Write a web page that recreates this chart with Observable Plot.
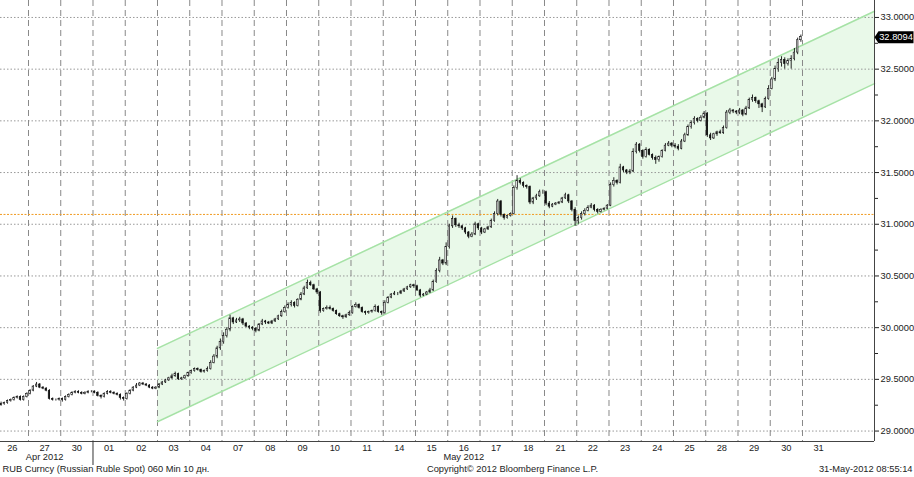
<!DOCTYPE html>
<html><head><meta charset="utf-8">
<script src="https://cdn.jsdelivr.net/npm/d3@7"></script>
<script src="https://cdn.jsdelivr.net/npm/@observablehq/plot@0.6"></script>
<style>body{margin:0;background:#fff;}</style>
</head><body><div id="chart"></div>
<script>
// Day labels on the time axis (26 Apr .. 31 May 2012)
const dayLabels = ["26","27","30","01","02","03","04","07","08","09","10","11","14","15","16","17","18","21","22","23","24","25","28","29","30","31"];
const monthLabels = [{label: "Apr 2012", day: 1}, {label: "May 2012", day: 14}];
const monthSeparatorDay = 3;
const barsPerDay = 10;
const firstOpen = 29.24;
// hourly closes, 10 bars per trading day
const closes = [
29.25,29.26,29.27,29.29,29.30,29.32,29.33,29.30,29.33,29.36,
29.39,29.43,29.45,29.42,29.41,29.39,29.31,29.30,29.30,29.31,
29.30,29.33,29.35,29.37,29.38,29.37,29.36,29.37,29.38,29.38,
29.37,29.34,29.33,29.36,29.38,29.37,29.36,29.35,29.32,29.31,
29.36,29.39,29.42,29.44,29.46,29.45,29.44,29.42,29.41,29.42,
29.45,29.47,29.49,29.51,29.53,29.55,29.50,29.51,29.53,29.56,
29.58,29.60,29.59,29.57,29.58,29.60,29.66,29.72,29.80,29.86,
29.92,29.98,30.09,30.05,30.07,30.08,30.04,30.01,30.00,29.99,
29.97,30.03,30.06,30.05,30.04,30.06,30.08,30.11,30.15,30.19,
30.22,30.24,30.21,30.27,30.32,30.38,30.43,30.41,30.37,30.34,
30.16,30.18,30.19,30.18,30.16,30.13,30.11,30.10,30.12,30.14,
30.20,30.22,30.19,30.15,30.14,30.15,30.16,30.20,30.15,30.14,
30.24,30.29,30.32,30.33,30.33,30.35,30.37,30.39,30.41,30.40,
30.36,30.31,30.32,30.34,30.36,30.44,30.55,30.65,30.62,30.78,
30.98,31.05,30.99,30.98,30.96,30.92,30.88,30.90,31.00,30.96,
30.92,30.95,30.97,31.03,31.10,31.22,31.09,31.06,31.08,31.10,
31.35,31.42,31.40,31.37,31.36,31.21,31.25,31.27,31.31,31.31,
31.20,31.17,31.19,31.20,31.21,31.25,31.28,31.22,31.14,31.03,
31.06,31.10,31.13,31.16,31.18,31.14,31.12,31.14,31.15,31.18,
31.38,31.42,31.40,31.55,31.52,31.50,31.51,31.70,31.77,31.71,
31.65,31.72,31.67,31.64,31.62,31.65,31.71,31.76,31.78,31.76,
31.75,31.73,31.80,31.86,31.94,31.98,32.02,32.00,32.03,32.07,
31.86,31.83,31.87,31.89,31.88,31.93,32.08,32.10,32.09,32.08,
32.10,32.06,32.12,32.20,32.22,32.19,32.16,32.13,32.21,32.31,
32.40,32.50,32.56,32.59,32.55,32.58,32.60,32.66,32.78,32.8094
];
const highs = [
29.26,29.28,29.28,29.30,29.31,29.33,29.34,29.34,29.34,29.37,
29.40,29.44,29.47,29.46,29.43,29.42,29.40,29.32,29.31,29.32,
29.32,29.34,29.36,29.38,29.39,29.39,29.38,29.38,29.39,29.39,
29.39,29.38,29.35,29.37,29.39,29.39,29.38,29.37,29.36,29.33,
29.37,29.40,29.43,29.46,29.47,29.47,29.46,29.45,29.43,29.43,
29.46,29.48,29.50,29.52,29.55,29.57,29.56,29.52,29.54,29.57,
29.59,29.61,29.61,29.60,29.59,29.62,29.68,29.74,29.82,29.89,
29.95,30.00,30.12,30.10,30.09,30.10,30.09,30.05,30.02,30.01,
30.00,30.04,30.08,30.07,30.06,30.07,30.09,30.12,30.17,30.21,
30.24,30.26,30.25,30.28,30.34,30.40,30.46,30.45,30.42,30.38,
30.35,30.19,30.21,30.21,30.19,30.17,30.14,30.12,30.13,30.16,
30.21,30.24,30.23,30.20,30.16,30.16,30.17,30.22,30.21,30.16,
30.26,30.30,30.33,30.35,30.34,30.36,30.38,30.40,30.42,30.42,
30.41,30.37,30.33,30.35,30.38,30.46,30.57,30.68,30.66,30.82,
31.00,31.08,31.06,31.01,30.99,30.97,30.93,30.92,31.02,31.01,
30.97,30.96,30.98,31.05,31.12,31.24,31.23,31.10,31.09,31.11,
31.37,31.47,31.44,31.41,31.38,31.37,31.26,31.29,31.33,31.33,
31.32,31.22,31.20,31.21,31.22,31.26,31.30,31.29,31.23,31.16,
31.08,31.12,31.15,31.18,31.20,31.19,31.15,31.15,31.16,31.19,
31.40,31.45,31.43,31.58,31.56,31.53,31.53,31.73,31.79,31.78,
31.72,31.74,31.73,31.68,31.66,31.66,31.72,31.78,31.80,31.79,
31.78,31.77,31.82,31.88,31.96,32.00,32.04,32.03,32.05,32.09,
32.08,31.88,31.88,31.90,31.91,31.95,32.10,32.12,32.11,32.10,
32.12,32.11,32.14,32.22,32.25,32.23,32.20,32.17,32.23,32.34,
32.42,32.53,32.60,32.62,32.61,32.60,32.63,32.70,32.80,32.83
];
const lows = [
29.23,29.24,29.25,29.26,29.28,29.29,29.31,29.29,29.29,29.32,
29.35,29.38,29.42,29.41,29.40,29.38,29.30,29.29,29.29,29.29,
29.28,29.29,29.32,29.34,29.36,29.36,29.35,29.35,29.36,29.37,
29.36,29.33,29.31,29.32,29.35,29.36,29.35,29.34,29.30,29.29,
29.30,29.35,29.38,29.41,29.43,29.44,29.43,29.41,29.40,29.40,
29.41,29.44,29.46,29.48,29.50,29.52,29.49,29.49,29.50,29.52,
29.55,29.57,29.58,29.56,29.56,29.57,29.59,29.65,29.70,29.78,
29.84,29.90,29.96,30.03,30.04,30.05,30.02,30.00,29.98,29.97,
29.95,29.96,30.02,30.03,30.03,30.03,30.05,30.07,30.10,30.14,
30.18,30.20,30.19,30.20,30.26,30.31,30.37,30.40,30.36,30.32,
30.14,30.15,30.17,30.17,30.15,30.12,30.10,30.08,30.09,30.11,
30.13,30.19,30.18,30.14,30.12,30.13,30.14,30.15,30.14,30.12,
30.13,30.23,30.28,30.31,30.31,30.32,30.34,30.36,30.38,30.38,
30.35,30.29,30.30,30.31,30.33,30.35,30.43,30.53,30.60,30.60,
30.76,30.96,30.97,30.96,30.94,30.90,30.86,30.87,30.89,30.94,
30.90,30.91,30.94,30.96,31.02,31.08,31.07,31.04,31.05,31.07,
31.09,31.33,31.38,31.35,31.34,31.19,31.19,31.23,31.26,31.29,
31.18,31.15,31.16,31.18,31.19,31.20,31.24,31.20,31.12,30.98,
31.00,31.04,31.08,31.12,31.15,31.12,31.10,31.11,31.13,31.14,
31.17,31.36,31.38,31.39,31.50,31.48,31.48,31.50,31.68,31.69,
31.63,31.64,31.66,31.62,31.58,31.60,31.64,31.70,31.75,31.74,
31.73,31.71,31.72,31.79,31.85,31.92,31.96,31.98,31.99,32.02,
31.84,31.81,31.82,31.85,31.87,31.87,31.92,32.06,32.07,32.06,
32.06,32.04,32.05,32.11,32.18,32.17,32.12,32.08,32.12,32.20,
32.30,32.38,32.47,32.52,32.50,32.53,32.50,32.58,32.64,32.76
];
// trend channel (day units, RUB)
const channelDays = [5.0, 27.233];
const channelUpper = [29.80, 33.06];
const channelLower = [29.09, 32.36];
const refLevel = 31.095;
const yTicks = [29.0, 29.5, 30.0, 30.5, 31.0, 31.5, 32.0, 32.5, 33.0];
const yMinorTicks = [29.25, 29.75, 30.25, 30.75, 31.25, 31.75, 32.25, 32.75];
const footerLeft = "RUB Curncy (Russian Ruble Spot) 060 Min 10 дн.";
const footerCenter = "Copyright© 2012 Bloomberg Finance L.P.";
const footerRight = "31-May-2012 08:55:14";

const xDomain = [0.132, 27.233];
const yDomain = [28.899, 33.164];

const bars = closes.map((c, i) => ({
  t: Math.floor(i / barsPerDay) + ((i % barsPerDay) + 0.5) / barsPerDay,
  open: i ? closes[i - 1] : firstOpen,
  close: c, high: highs[i], low: lows[i]
}));
const channel = channelDays.map((t, i) => ({t, upper: channelUpper[i], lower: channelLower[i]}));
const last = [{t: xDomain[1], v: closes[closes.length - 1]}];
const dayTicks = dayLabels.map((d, i) => i + 0.5);
const separators = d3.range(1, dayLabels.length);

const tagSymbol = {draw(ctx) {
  ctx.moveTo(0, 0); ctx.lineTo(4, -6); ctx.lineTo(39, -6); ctx.lineTo(39, 6); ctx.lineTo(4, 6); ctx.closePath();
}};
const hw = 0.023;

const chart = Plot.plot({
  width: 914, height: 477,
  marginLeft: 0, marginRight: 40, marginTop: 0, marginBottom: 36,
  x: {domain: xDomain, axis: null, label: null},
  y: {domain: yDomain, axis: null, label: null},
  style: {fontFamily: "'Liberation Sans', Arial, sans-serif", fontSize: "9.3px", color: "#222", background: "#fff", overflow: "visible"},
  marks: [
    Plot.areaY(channel, {x: "t", y1: "lower", y2: "upper", fill: "#e9f9e9"}),
    Plot.ruleY(yTicks, {stroke: "#999", strokeDasharray: "1.5,2"}),
    Plot.ruleX(separators, {stroke: "#888", strokeDasharray: "6,4"}),
    Plot.ruleY([refLevel], {stroke: "#f09a20", strokeDasharray: "2,1.5"}),
    Plot.line(channel, {x: "t", y: "upper", stroke: "#a6e2a6", strokeWidth: 1.5}),
    Plot.line(channel, {x: "t", y: "lower", stroke: "#a6e2a6", strokeWidth: 1.5}),
    Plot.ruleX(bars, {x: "t", y1: "low", y2: "high", stroke: "#111", strokeWidth: 0.9}),
    Plot.rect(bars, {x1: d => d.t - hw, x2: d => d.t + hw, y1: "open", y2: "close",
      fill: d => d.close >= d.open ? "#fff" : "#111", stroke: "#111", strokeWidth: 0.6}),
    Plot.ruleY([yDomain[0]], {stroke: "#444"}),
    Plot.ruleX([xDomain[1]], {stroke: "#444"}),
    Plot.ruleX([monthSeparatorDay], {insetTop: 441, insetBottom: -24, stroke: "#333"}),
    Plot.axisY({anchor: "right", label: null, ticks: yTicks, tickFormat: d => d.toFixed(4), tickSize: 4, tickPadding: 2, tickStrokeWidth: 1.5}),
    Plot.axisY({anchor: "right", label: null, ticks: yMinorTicks, tickFormat: () => "", tickSize: 3}),
    Plot.axisX({label: null, ticks: dayTicks, tickFormat: d => dayLabels[Math.floor(d)], tickSize: 0, tickPadding: 3}),
    Plot.text(monthLabels, {x: d => d.day + 0.5, text: "label", frameAnchor: "bottom", dy: 18}),
    Plot.dot(last, {x: "t", y: "v", symbol: tagSymbol, fill: "#000", stroke: null, r: 5}),
    Plot.text(last, {x: "t", y: "v", text: d => d.v.toFixed(4), dx: 21.5, fill: "#fff", textAnchor: "middle"}),
    Plot.text([footerLeft], {frameAnchor: "bottom-left", textAnchor: "start", dx: 2, dy: 30}),
    Plot.text([footerCenter], {frameAnchor: "bottom", textAnchor: "middle", dx: 75, dy: 30}),
    Plot.text([footerRight], {frameAnchor: "bottom-right", textAnchor: "end", dx: 38, dy: 30})
  ]
});
document.getElementById("chart").appendChild(chart);
</script>
</body></html>
